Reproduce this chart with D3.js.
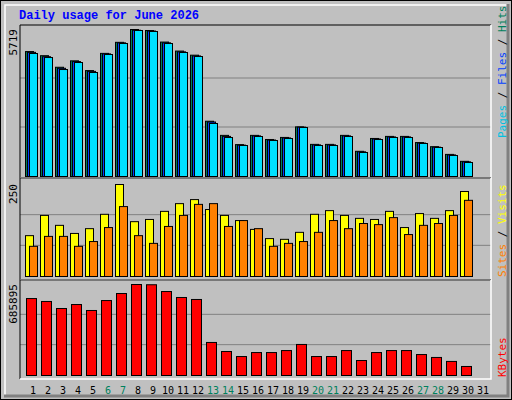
<!DOCTYPE html>
<html><head><meta charset="utf-8">
<script src="https://cdn.jsdelivr.net/npm/d3@7"></script>
<style>body{margin:0;background:#fff}</style>
</head><body><div id="chart"></div>
<script>
const days = d3.range(1, 32);
const weekends = [6, 7, 13, 14, 20, 21, 27, 28];
const hits = [4860,4700,4250,4500,4120,4790,5220,5719,5680,5230,4880,4720,2150,1600,1240,1600,1440,1520,1930,1250,1250,1600,980,1480,1560,1560,1320,1160,860,590];
const files = [4830,4660,4210,4470,4090,4770,5200,5690,5660,5200,4850,4690,2120,1560,1220,1580,1420,1500,1920,1230,1230,1580,960,1460,1540,1540,1300,1140,840,570];
const pages = [4785,4629,4162,4435,4046,4746,5174,5680,5641,5174,4824,4668,2062,1517,1206,1556,1400,1478,1906,1206,1206,1556,934,1439,1517,1517,1284,1128,817,545];
const visits = [111,166,139,117,130,169,250,149,155,177,198,209,182,166,152,128,103,101,120,169,179,166,158,155,177,133,171,158,179,231];
const sites = [82,109,109,82,95,133,190,111,90,136,166,196,198,136,152,130,82,90,95,120,152,130,144,141,160,114,139,144,166,207];
const kbytes = [580000,558000,505000,535000,490000,565000,618000,685895,684000,633000,588000,573000,249000,181000,143000,173000,173000,188000,234000,143000,143000,188000,113000,173000,188000,188000,158000,136000,106000,68000];

const svg = d3.select('#chart').append('svg').attr('width', 512).attr('height', 400)
    .style('font-family', 'DejaVu Sans Mono, monospace');

// frame and bevel
svg.append('rect').attr('x', 0).attr('y', 0).attr('width', 512).attr('height', 400).attr('fill', '#c0c0c0');
svg.append('rect').attr('x', 0.5).attr('y', 0.5).attr('width', 511).attr('height', 399).attr('fill', 'none').attr('stroke', '#000');
svg.append('path').attr('d', 'M5,395V5H507').attr('fill', 'none').attr('stroke', '#fff').attr('stroke-width', 1.5);
svg.append('path').attr('d', 'M508,4V396H4').attr('fill', 'none').attr('stroke', '#808080').attr('stroke-width', 3);

svg.append('text').attr('x', 19).attr('y', 19).text('Daily usage for June 2026')
    .attr('fill', '#0000ff').attr('font-weight', 'bold').attr('font-size', 12)
    .style('font-family', 'Liberation Mono, monospace');

const x = d3.scaleLinear().domain([1, 31]).range([25, 475]);
const plotL = 20, plotR = 491;

const panels = [
    {top: 25, bottom: 178, y0: 176, y1: 29, max: 5719, label: '5719'},
    {top: 178, bottom: 280, y0: 276, y1: 184, max: 250, label: '250'},
    {top: 280, bottom: 379, y0: 375, y1: 284, max: 685895, label: '685895'}
];
panels.forEach(p => {
    p.y = d3.scaleLinear().domain([0, p.max]).range([p.y0, p.y1]);
    const h = p.y0 - p.y1;
    [1, 2].forEach(k => svg.append('line').attr('x1', plotL).attr('x2', plotR)
        .attr('y1', p.y0 - h * k / 3).attr('y2', p.y0 - h * k / 3).attr('stroke', '#808080'));
    svg.append('path').attr('d', `M${plotL},${p.bottom}V${p.top}H${plotR}`).attr('fill', 'none').attr('stroke', '#000');
    svg.append('path').attr('d', `M${plotR},${p.top}V${p.bottom}H${plotL}`).attr('fill', 'none').attr('stroke', '#fff').attr('stroke-width', 1.5);
    svg.append('text').attr('transform', `translate(17,${p.y1}) rotate(-90)`).attr('text-anchor', 'end')
        .attr('font-size', 11).text(p.label);
});

function bars(data, p, dx, w, fill) {
    svg.append('g').selectAll('rect').data(data).join('rect')
        .attr('x', (d, i) => x(i + 1) + dx + 0.5)
        .attr('y', d => p.y(d) + 0.5)
        .attr('width', w)
        .attr('height', d => p.y0 - p.y(d))
        .attr('fill', fill).attr('stroke', '#000');
}
bars(hits, panels[0], 0, 8, '#00805c');
bars(files, panels[0], 2, 8, '#0040ff');
bars(pages, panels[0], 4, 8, '#00e0ff');
bars(visits, panels[1], 0, 8, '#ffff00');
bars(sites, panels[1], 4, 8, '#ff8000');
bars(kbytes, panels[2], 1, 10, '#ff0000');

svg.append('g').selectAll('text').data(days).join('text')
    .attr('x', d => x(d) + 8).attr('y', 394).attr('text-anchor', 'middle').attr('font-size', 10)
    .attr('fill', d => weekends.includes(d) ? '#00805c' : '#000').text(d => d);

function sideLabel(y, parts) {
    const t = svg.append('text').attr('transform', `translate(506,${y}) rotate(-90)`).attr('font-size', 11);
    parts.forEach(([s, c]) => t.append('tspan').attr('fill', c).text(s));
}
sideLabel(138, [['Pages', '#00c0e0'], [' / ', '#000'], ['Files', '#0040ff'], [' / ', '#000'], ['Hits', '#00805c']]);
sideLabel(277, [['Sites', '#ff8000'], [' / ', '#000'], ['Visits', '#ffff00']]);
sideLabel(377, [['KBytes', '#ff0000']]);
</script>
</body></html>
